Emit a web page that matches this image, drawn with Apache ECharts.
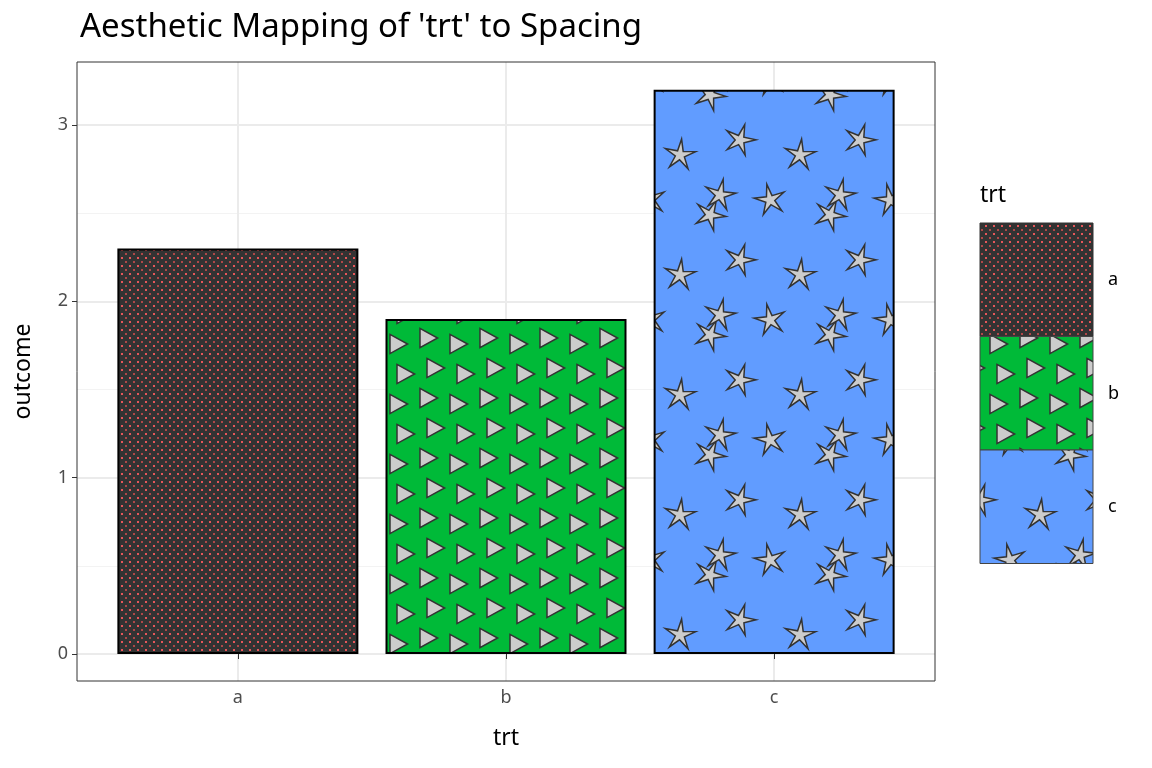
<!DOCTYPE html>
<html><head><meta charset="utf-8">
<script src="https://cdn.jsdelivr.net/npm/echarts@6/dist/echarts.min.js"></script>
<style>body{margin:0}#c{width:1152px;height:768px}</style></head>
<body><div id="c"></div>
<script>
const categories = ['a','b','c'];
const outcome = [2.3, 1.9, 3.2];
const yTicks = [0,1,2,3];
const yMinor = [0.5,1.5,2.5];
const xPos = [1,2,3];

function tri(ctx,x,y,s){ctx.beginPath();ctx.moveTo(x-s*0.5,y-s*0.6);ctx.lineTo(x+s*0.6,y);ctx.lineTo(x-s*0.5,y+s*0.6);ctx.closePath();ctx.fill();ctx.stroke();}
function star(ctx,x,y,r,rot){ctx.beginPath();for(let i=0;i<10;i++){const a=rot+i*Math.PI/5;const rr=i%2?r*0.3:r;ctx.lineTo(x+rr*Math.sin(a),y-rr*Math.cos(a));}ctx.closePath();ctx.fill();ctx.stroke();}
function mk(w,h,bg,draw){const c=document.createElement('canvas');c.width=w;c.height=h;const x=c.getContext('2d');x.fillStyle=bg;x.fillRect(0,0,w,h);draw(x);return c;}
const patA = mk(8,8,'#333333',x=>{x.fillStyle='#e8575a';x.fillRect(1,1,2,2);x.fillStyle='#b04848';x.fillRect(5,5,2,2);});
const patB = mk(60,60,'#00BA38',x=>{x.fillStyle='#cccccc';x.strokeStyle='#333';x.lineWidth=1.5;
  const pts=[[15,8],[45,14],[8,38],[38,44]];
  for(const [px,py] of pts)for(const dx of [-60,0,60])for(const dy of [-60,0,60])tri(x,px+dx,py+dy,16);});
const patC = mk(120,120,'#619CFF',x=>{x.fillStyle='#cccccc';x.strokeStyle='#333';x.lineWidth=1.5;
  const pts=[[20,20,0.3],[80,35,0.1],[50,80,-0.2],[110,95,0.4],[0,75,0.2]];
  for(const [px,py,r] of pts)for(const dx of [-120,0,120])for(const dy of [-120,0,120])star(x,px+dx,py+dy,16,r);});
const pats=[patA,patB,patC];

const chart = echarts.init(document.getElementById('c'));
const gridCol='#ebebeb';
chart.setOption({
  animation:false,
  title:{text:"Aesthetic Mapping of 'trt' to Spacing",left:75,top:6,textStyle:{fontFamily:'Noto Sans',fontWeight:'normal',fontSize:33,color:'#000'}},
  grid:{left:77,right:217,top:62,bottom:87},
  xAxis:{type:'value',min:0.4,max:3.6,name:'trt',nameLocation:'middle',nameGap:46,
    nameTextStyle:{fontFamily:'Noto Sans',fontSize:23,color:'#000'},
    axisLine:{show:false},axisTick:{show:true,length:5,customValues:xPos,lineStyle:{color:'#333'}},
    axisLabel:{fontFamily:'Noto Sans',fontSize:18,color:'#4d4d4d',margin:8,customValues:xPos,formatter:v=>categories[Math.round(v)-1]||''},splitLine:{show:false}},
  yAxis:{type:'value',min:-0.153,max:3.357,name:'outcome',nameLocation:'middle',nameGap:42,
    nameTextStyle:{fontFamily:'Noto Sans',fontSize:23,color:'#000'},
    axisLine:{show:false},splitLine:{show:false},
    axisTick:{show:true,length:5,customValues:yTicks,lineStyle:{color:'#333'}},
    axisLabel:{fontFamily:'Noto Sans',fontSize:18,color:'#4d4d4d',margin:9,customValues:yTicks}},
  series:[{type:'bar',barWidth:241,
    data:outcome.map((v,i)=>({value:[xPos[i],v],itemStyle:{color:{image:pats[i],repeat:'repeat'}}})),
    itemStyle:{borderColor:'#000',borderWidth:2},
    markLine:{silent:true,symbol:'none',label:{show:false},z:0,
      data:[...yTicks.map(v=>({yAxis:v,lineStyle:{color:gridCol,width:2,type:'solid'}})),
            ...yMinor.map(v=>({yAxis:v,lineStyle:{color:'#f3f3f3',width:1,type:'solid'}})),
            ...xPos.map(c=>({xAxis:c,lineStyle:{color:gridCol,width:2,type:'solid'}}))]}}],
  graphic:[
    {type:'rect',shape:{x:77,y:62,width:858,height:619},style:{fill:'none',stroke:'#333',lineWidth:1},z:100},
    {type:'text',left:980,top:184,style:{text:'trt',font:'23px "Noto Sans"',fill:'#000'}},
    ...pats.map((p,i)=>({type:'rect',shape:{x:980,y:223+i*113.5,width:113,height:113.5},style:{fill:{image:p,repeat:'repeat'},stroke:i==0?'#333':'#444',lineWidth:1}})),
    ...categories.map((c,i)=>({type:'text',x:1108,y:271+i*113.5,style:{text:c,font:'18px "Noto Sans"',fill:'#000'}}))
  ]
});
</script></body></html>
